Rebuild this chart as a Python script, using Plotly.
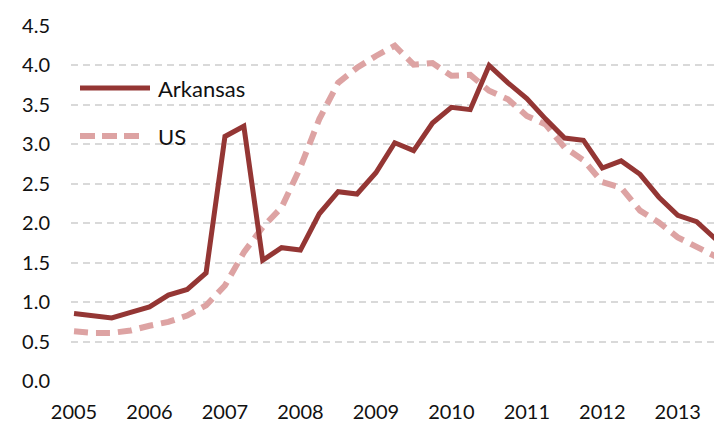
import plotly.graph_objects as go

# quarterly observations starting 2005Q1
quarters = [2005 + 0.25 * i for i in range(35)]

arkansas = [0.855, 0.83, 0.80, 0.87, 0.94, 1.09, 1.16, 1.37, 3.10, 3.23,
            1.53, 1.69, 1.66, 2.12, 2.40, 2.37, 2.64, 3.02, 2.92, 3.27,
            3.47, 3.44, 4.00, 3.78, 3.58, 3.32, 3.08, 3.05, 2.70, 2.79,
            2.62, 2.33, 2.10, 2.02, 1.80]

us = [0.63, 0.61, 0.61, 0.64, 0.70, 0.75, 0.83, 0.96, 1.21, 1.63,
      1.95, 2.20, 2.71, 3.32, 3.78, 3.97, 4.12, 4.25, 4.01, 4.03,
      3.87, 3.88, 3.68, 3.57, 3.36, 3.25, 2.96, 2.80, 2.52, 2.45,
      2.16, 2.01, 1.82, 1.70, 1.58]

year_ticks = [2005, 2006, 2007, 2008, 2009, 2010, 2011, 2012, 2013]
year_labels = ["2005", "2006", "2007", "2008", "2009", "2010", "2011", "2012", "2013"]
y_ticks = [0.0, 0.5, 1.0, 1.5, 2.0, 2.5, 3.0, 3.5, 4.0, 4.5]
y_labels = ["0.0", "0.5", "1.0", "1.5", "2.0", "2.5", "3.0", "3.5", "4.0", "4.5"]

AR_COLOR = "#943634"
US_COLOR = "#DDA3A3"
FONT = "Lato"

fig = go.Figure()
fig.add_trace(go.Scatter(x=quarters, y=us, mode="lines", name="US",
                         line=dict(color=US_COLOR, width=6, dash="14px,8px")))
fig.add_trace(go.Scatter(x=quarters, y=arkansas, mode="lines", name="Arkansas",
                         line=dict(color=AR_COLOR, width=5)))

W, H = 714, 422
L, R, T, B = 71, 0, 26, 41
pw, ph = W - L - R, H - T - B


def px(sx):
    return (sx - L) / pw


def py(sy):
    return (H - B - sy) / ph


# manual legend
fig.add_shape(type="line", xref="paper", yref="paper",
              x0=px(80), x1=px(150), y0=py(88), y1=py(88),
              line=dict(color=AR_COLOR, width=5))
fig.add_shape(type="line", xref="paper", yref="paper",
              x0=px(80), x1=px(146), y0=py(136), y1=py(136),
              line=dict(color=US_COLOR, width=6, dash="15px,7px"))
fig.add_annotation(text="Arkansas", xref="paper", yref="paper",
                   x=px(156), y=py(88), xanchor="left", yanchor="middle",
                   showarrow=False, font=dict(family=FONT, size=22, color="#111"))
fig.add_annotation(text="US", xref="paper", yref="paper",
                   x=px(156), y=py(136), xanchor="left", yanchor="middle",
                   showarrow=False, font=dict(family=FONT, size=22, color="#111"))

fig.update_layout(
    width=W, height=H,
    margin=dict(l=L, r=R, t=T, b=B, pad=0, autoexpand=False),
    paper_bgcolor="white", plot_bgcolor="white",
    showlegend=False,
    font=dict(family=FONT, size=20, color="#111"),
)
fig.update_xaxes(range=[2004.96, 2013.48], tickvals=year_ticks, ticktext=year_labels,
                 showgrid=False, zeroline=False, showline=False, automargin=False,
                 ticks="", ticklabelstandoff=17)
fig.update_yaxes(range=[0, 4.5], tickvals=y_ticks, ticktext=y_labels,
                 showgrid=True, gridcolor="#D9D9D9", gridwidth=1.5, griddash="7px,5px",
                 zeroline=False, showline=False, automargin=False,
                 ticks="", ticklabelstandoff=20)

fig.write_html("out.html",
               config={"displayModeBar": False},
               post_script="document.body.style.margin='0';"
                           "document.body.style.overflow='hidden';")
